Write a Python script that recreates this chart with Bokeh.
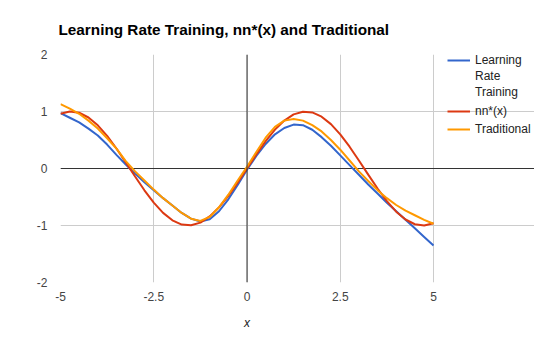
from bokeh.plotting import figure
from bokeh.models import Span, Legend, LegendItem, Range1d, FixedTicker, Grid, Title
from bokeh.embed import file_html
from bokeh.resources import INLINE

x_vals = [-5.0, -4.75, -4.5, -4.25, -4.0, -3.75, -3.5, -3.25, -3.0, -2.75, -2.5,
          -2.25, -2.0, -1.75, -1.5, -1.25, -1.0, -0.75, -0.5, -0.25, 0.0,
          0.25, 0.5, 0.75, 1.0, 1.25, 1.5, 1.75, 2.0, 2.25, 2.5,
          2.75, 3.0, 3.25, 3.5, 3.75, 4.0, 4.25, 4.5, 4.75, 5.0]

learning_rate = [0.97, 0.89, 0.81, 0.70, 0.58, 0.42, 0.24, 0.07, -0.09, -0.24, -0.38,
                 -0.52, -0.65, -0.78, -0.88, -0.93, -0.89, -0.75, -0.54, -0.29, -0.02,
                 0.22, 0.43, 0.60, 0.71, 0.77, 0.76, 0.68, 0.55, 0.40, 0.23,
                 0.06, -0.11, -0.28, -0.44, -0.60, -0.75, -0.90, -1.05, -1.20, -1.35]

nn_star = [0.959, 0.999, 0.978, 0.895, 0.757, 0.572, 0.351, 0.108, -0.141, -0.382, -0.598,
           -0.778, -0.909, -0.984, -0.997, -0.949, -0.841, -0.682, -0.479, -0.247, 0.0,
           0.247, 0.479, 0.682, 0.841, 0.949, 0.997, 0.984, 0.909, 0.778, 0.598,
           0.382, 0.141, -0.108, -0.351, -0.572, -0.757, -0.895, -0.978, -0.999, -0.959]

traditional = [1.13, 1.05, 0.96, 0.84, 0.70, 0.53, 0.35, 0.13, -0.05, -0.21, -0.37,
               -0.52, -0.65, -0.78, -0.88, -0.92, -0.85, -0.68, -0.46, -0.21, 0.03,
               0.29, 0.54, 0.73, 0.84, 0.87, 0.84, 0.76, 0.65, 0.50, 0.33,
               0.14, -0.05, -0.22, -0.38, -0.52, -0.64, -0.74, -0.82, -0.90, -0.97]

x_ticks = [-5, -2.5, 0, 2.5, 5]
x_tick_labels = ["-5", "-2.5", "0", "2.5", "5"]
y_ticks = [-2, -1, 0, 1, 2]
y_tick_labels = ["-2", "-1", "0", "1", "2"]
x_min, x_max = -5, 5
y_min, y_max = -2, 2

title_text = "Learning Rate Training, nn*(x) and Traditional"
x_label_text = "x"

# plot frame spans 60..534 px; data area -5..5 occupies 60..433 px,
# the rest of the frame to the right hosts the legend
frame_w = 534 - 60
data_w = 433 - 60
x_end = x_min + (x_max - x_min) * frame_w / data_w

p = figure(width=534, height=342, output_backend="svg", toolbar_location=None,
           x_range=Range1d(x_min, x_end), y_range=Range1d(y_min, y_max),
           min_border_left=60, min_border_right=0, min_border_top=54, min_border_bottom=60)

p.title.text = title_text
p.title.text_font = "Liberation Sans"
p.title.text_font_size = "15.3px"
p.title.text_font_style = "bold"
p.title.text_color = "#000000"
p.title.standoff = 34
p.title.offset = -2

p.background_fill_color = "white"
p.border_fill_color = "white"
p.outline_line_color = None

for ax in (p.xaxis[0], p.yaxis[0]):
    ax.axis_line_color = None
    ax.major_tick_line_color = None
    ax.minor_tick_line_color = None
    ax.major_tick_out = 0
    ax.major_tick_in = 0
    ax.minor_tick_out = 0
    ax.major_label_text_font = "Liberation Sans"
    ax.major_label_text_font_size = "12px"
    ax.major_label_text_color = "#444444"

p.xaxis.bounds = (x_min, x_max)
p.xaxis.ticker = FixedTicker(ticks=x_ticks)
p.yaxis.ticker = FixedTicker(ticks=y_ticks)
p.xaxis.major_label_overrides = dict(zip(x_ticks, x_tick_labels))
p.yaxis.major_label_overrides = dict(zip(y_ticks, y_tick_labels))
p.xaxis.major_label_standoff = 9
p.yaxis.major_label_standoff = 13

# x axis title, centred under the -5..5 data area
x_title = Title(text=x_label_text, align="left", offset=(data_w / 2) - 3, standoff=21,
                text_font="Liberation Sans", text_font_size="12px",
                text_font_style="italic", text_color="#222222")
p.add_layout(x_title, "below")

p.xgrid.ticker = FixedTicker(ticks=x_ticks)
p.ygrid.ticker = FixedTicker(ticks=y_ticks)
p.xgrid.grid_line_color = "#cccccc"
p.ygrid.grid_line_color = "#cccccc"
p.ygrid.bounds = (x_min, x_max)

p.add_layout(Span(location=0, dimension="height", line_color="#333333", line_width=1))
p.add_layout(Grid(dimension=1, ticker=FixedTicker(ticks=[0]), bounds=(x_min, x_max),
                  grid_line_color="#333333", grid_line_width=1))

r_blue = p.line(x_vals, learning_rate, line_color="#3366cc", line_width=2)
r_red = p.line(x_vals, nn_star, line_color="#dc3912", line_width=2)
r_orange = p.line(x_vals, traditional, line_color="#ff9900", line_width=2)
r_dummy = p.line([], [], line_alpha=0)

def mk_legend(items, loc, row_h):
    return Legend(items=items, location=loc, orientation="vertical",
                  padding=0, margin=0, spacing=0,
                  border_line_color=None, background_fill_alpha=0,
                  glyph_width=23, glyph_height=row_h, label_height=row_h,
                  label_standoff=5, label_text_font="Liberation Sans",
                  label_text_font_size="12px", label_text_color="#222222",
                  label_text_baseline="middle")

lg1 = mk_legend([LegendItem(label="Learning", renderers=[r_blue]),
                 LegendItem(label="Rate", renderers=[r_dummy]),
                 LegendItem(label="Training", renderers=[r_dummy])], (387, 182), 16)
lg2 = mk_legend([LegendItem(label="nn*(x)", renderers=[r_red]),
                 LegendItem(label="Traditional", renderers=[r_orange])], (387, 144), 18)
p.add_layout(lg1)
p.add_layout(lg2)

open("out.html", "w").write(file_html(p, INLINE))
